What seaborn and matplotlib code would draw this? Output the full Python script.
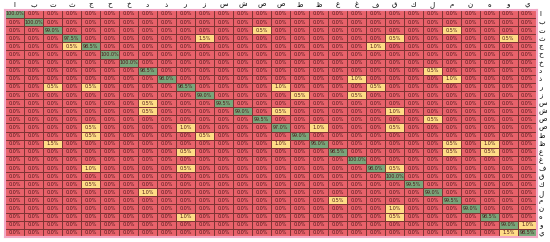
import numpy as np
import seaborn as sns
from matplotlib import pyplot as plt
from matplotlib.colors import ListedColormap

# Arabic letters (rows = true, columns = predicted)
letters = ["ا", "ب", "ت", "ث", "ج", "ح", "خ", "د", "ذ", "ر", "ز", "س", "ش", "ص",
           "ض", "ط", "ظ", "ع", "غ", "ف", "ق", "ك", "ل", "م", "ن", "ه", "و", "ي"]

# diagonal accuracies (%)
diag_values = [100.0, 100.0, 99.0, 97.5, 98.5, 100.0, 100.0, 98.5, 98.0, 98.5,
               99.0, 99.5, 99.0, 99.5, 97.0, 99.0, 96.0, 98.5, 100.0, 98.0,
               100.0, 99.5, 99.0, 99.5, 99.0, 98.5, 99.0, 98.5]

# off-diagonal confusions: row index, column index, percent
off_rows = [2, 2, 3, 3, 3, 4, 4, 7, 8, 8, 9, 9, 9, 9, 10, 10, 11, 12, 12, 12, 13,
            14, 14, 14, 14, 15, 15, 16, 16, 16, 16, 17, 17, 17, 19, 19, 19, 21,
            22, 23, 24, 25, 25, 26, 27]
off_cols = [13, 23, 10, 20, 26, 3, 19, 22, 18, 23, 2, 4, 14, 19, 15, 18, 7, 7, 14, 20, 22,
            4, 9, 16, 20, 4, 10, 2, 14, 23, 25, 9, 23, 25, 4, 9, 20, 4,
            7, 17, 20, 9, 20, 27, 26]
off_values = [0.5, 0.5, 1.5, 0.5, 0.5, 0.5, 1.0, 0.5, 1.0, 1.0, 0.5, 0.5, 1.0, 0.5, 0.5, 0.5, 0.5, 0.5, 0.5, 1.0, 0.5,
              0.5, 1.0, 1.0, 0.5, 0.5, 0.5, 1.5, 1.0, 0.5, 1.0, 0.5, 0.5, 0.5, 1.0, 0.5, 0.5, 0.5,
              1.0, 0.5, 1.0, 1.0, 0.5, 1.0, 1.5]

n = len(letters)
mat = np.zeros((n, n))
mat[np.arange(n), np.arange(n)] = diag_values
mat[off_rows, off_cols] = off_values

# excel-like colour classes: zero -> red, small -> yellow, high -> green
classes = np.where(mat == 0, 0, np.where(mat < 50, 1, 2))
labels = np.vectorize(lambda v: f"{v:.1f}%")(mat)

cmap = ListedColormap(["#E8626B", "#FFDC86", "#79A67A"])

fig = plt.figure(figsize=(5.5, 2.42), dpi=100)
ax = fig.add_axes([0.009, 0.021, 0.967, 0.938])
sns.heatmap(classes, cmap=cmap, vmin=-0.5, vmax=2.5, annot=labels, fmt="",
            annot_kws={"fontsize": 3.5, "color": "#4E161A"},
            linewidths=0.6, linecolor="#7E3434", cbar=False, ax=ax,
            xticklabels=letters, yticklabels=letters)

ax.xaxis.tick_top()
ax.yaxis.tick_right()
ax.tick_params(axis="both", length=0, labelsize=5, pad=1.5)
plt.setp(ax.get_xticklabels(), rotation=0)
plt.setp(ax.get_yticklabels(), rotation=0)
for s in ax.spines.values():
    s.set_visible(True)
    s.set_color("#F2A9C6")
    s.set_linewidth(1.5)

fig.savefig("out.png", dpi=100)
